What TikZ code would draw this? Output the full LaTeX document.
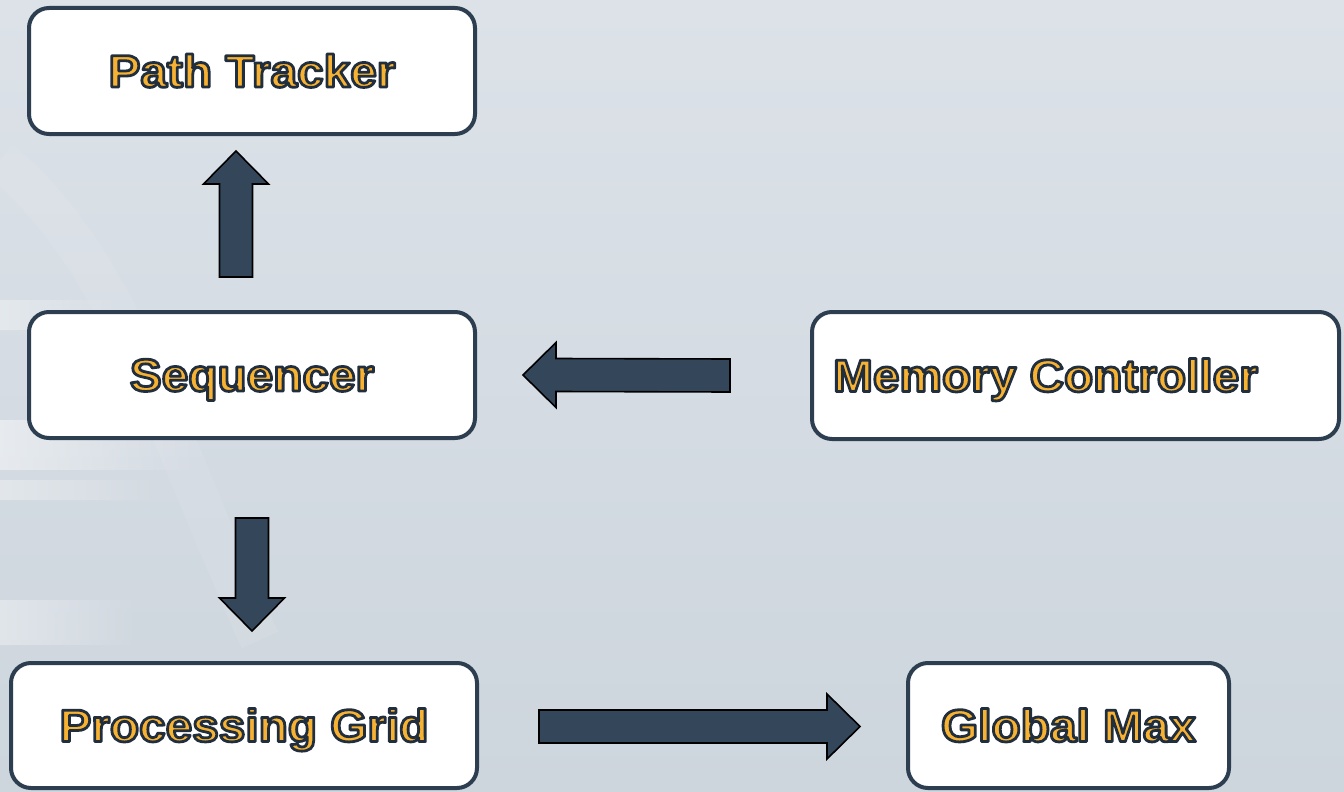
\documentclass[tikz,border=0pt]{standalone}
\usepackage{fontspec}
\setmainfont{Liberation Sans}
\newfontfamily\boxfont[FakeStretch=1.05]{Liberation Sans Bold}
\usetikzlibrary{calc,fadings}
\definecolor{bgtop}{HTML}{DCE2E8}
\definecolor{bgbot}{HTML}{CDD5DD}
\definecolor{boxedge}{HTML}{2C3E50}
\definecolor{arrowfill}{HTML}{34475A}
\definecolor{txtfill}{HTML}{F8B232}
% outlined text: fill with txtfill, stroke in dark slate (text render mode 2)
\newcommand\outtxt[1]{%
  {\color{txtfill}%
   \special{pdf:literal direct 2 Tr 2.8 w 1 j 0.13 0.18 0.24 RG}%
   #1%
   \special{pdf:literal direct 0 Tr}}}
\newcommand\varrowshape[3]{%
  \draw[barrow] ($(#1)+(-16.5,0)$) -- ($(#2)+(-16.5,{-#3*33})$) -- ($(#2)+(-32.5,{-#3*33})$)
    -- (#2) -- ($(#2)+(32.5,{-#3*33})$) -- ($(#2)+(16.5,{-#3*33})$) -- ($(#1)+(16.5,0)$) -- cycle;}
\newcommand\harrowshape[3]{%
  \draw[barrow] ($(#1)+(0,-16.5)$) -- ($(#2)+({-#3*33},-16.5)$) -- ($(#2)+({-#3*33},-32.5)$)
    -- (#2) -- ($(#2)+({-#3*33},32.5)$) -- ($(#2)+({-#3*33},16.5)$) -- ($(#1)+(0,16.5)$) -- cycle;}
\tikzset{
  box/.style={draw=boxedge, line width=4pt, fill=white, rounded corners=20pt,
    inner sep=0pt, text height=32pt, text depth=0pt,
    font=\boxfont\fontsize{45.5}{50}\selectfont},
  barrow/.style={fill=arrowfill, draw=black, line width=1.6pt, line join=miter}
}
\begin{document}
\begin{tikzpicture}[x=1pt,y=-1pt]
\useasboundingbox (0,0) rectangle (1344,792);
% background
\shade[top color=bgtop, bottom color=bgbot] (0,0) rectangle (1344,792);
\fill[white, opacity=0.35, path fading=east] (0,300) rectangle (120,330);
\fill[white, opacity=0.45, path fading=east] (0,420) rectangle (200,470);
\fill[white, opacity=0.35, path fading=east] (0,480) rectangle (160,500);
\fill[white, opacity=0.35, path fading=east] (0,600) rectangle (140,645);
\draw[white, opacity=0.08, line width=40pt] (0,160) .. controls (120,260) and (160,420) .. (260,640);
% nodes
\node[box, minimum width=446pt, minimum height=126pt] (pt) at (252,71) {\outtxt{Path Tracker}};
\node[box, minimum width=446pt, minimum height=126pt] (seq) at (252,375) {\outtxt{Sequencer}};
\node[box, minimum width=527pt, minimum height=127pt] (mem) at (1075.5,375.5) {\outtxt{Memory Controller}\hspace*{60pt}};
\node[box, minimum width=466pt, minimum height=125pt] (pg) at (244,725.5) {\outtxt{Processing Grid}};
\node[box, minimum width=321pt, minimum height=125pt] (gm) at (1068.5,725.5) {\outtxt{Global Max}};
% connector anchors
\coordinate (upB) at ($(seq.north)+(-16,-33)$);
\coordinate (upT) at ($(pt.south)+(-16,15)$);
\coordinate (lfB) at ($(mem.west)+(-80,0)$);
\coordinate (lfT) at ($(seq.east)+(46,0)$);
\coordinate (dnB) at ($(seq.south)+(0,78)$);
\coordinate (dnT) at ($(pg.north)+(8,-30)$);
\coordinate (rtB) at ($(pg.east)+(60,1)$);
\coordinate (rtT) at ($(gm.west)+(-46,1)$);
% block arrows
\varrowshape{upB}{upT}{-1}
\harrowshape{lfB}{lfT}{-1}
\varrowshape{dnB}{dnT}{1}
\harrowshape{rtB}{rtT}{1}
\end{tikzpicture}
\end{document}
